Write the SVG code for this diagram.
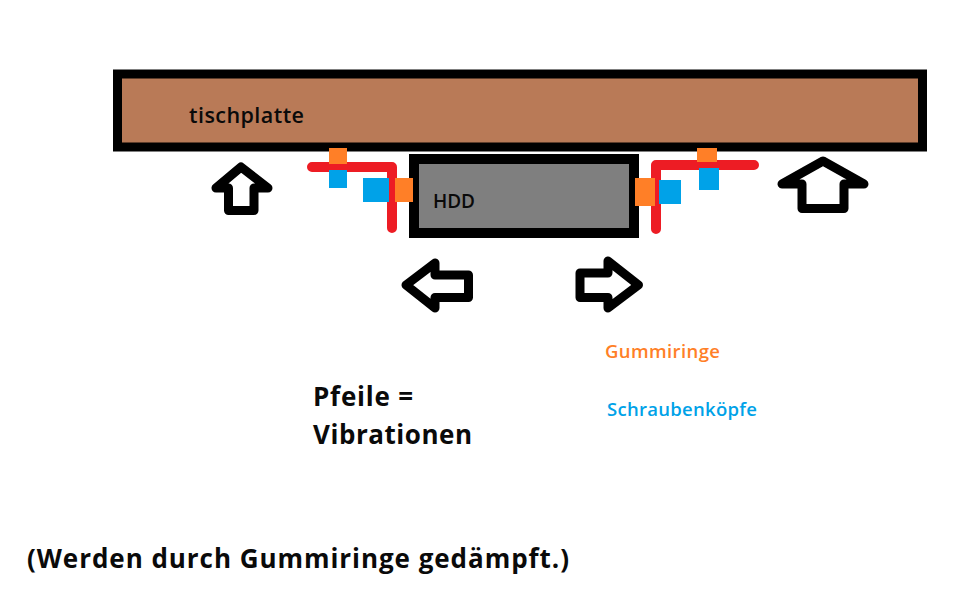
<svg xmlns="http://www.w3.org/2000/svg" width="971" height="616" viewBox="0 0 971 616">
<style>
.t{font-family:"Open Sans","DejaVu Sans",sans-serif;font-weight:700;fill:#0a0a0a}
.l{font-family:"Open Sans","DejaVu Sans",sans-serif;font-weight:600;font-size:18.500px}
.a{fill:#fff;stroke:#000;stroke-width:9;stroke-linejoin:round}
.o{fill:#ff7f27}.b{fill:#00a2e8}
.r{fill:none;stroke:#ed1c24;stroke-width:10;stroke-linejoin:round;stroke-linecap:round}
</style>
<rect width="971" height="616" fill="#fff"/>
<g id="tischplatte">
<rect x="117.500" y="74" width="805" height="73" fill="#b97a57" stroke="#000" stroke-width="9"/>
<text class="t" x="189" y="123" font-size="21.500" textLength="115" style="font-weight:600">tischplatte</text>
</g>
<g id="hdd">
<rect x="414" y="159" width="220" height="74" fill="#7f7f7f" stroke="#000" stroke-width="10"/>
<text class="t" x="433" y="208" font-size="19" textLength="42" style="font-weight:600">HDD</text>
</g>
<g id="connectors">
<path class="r" d="M312 167H392V228"/>
<path class="r" d="M754 165H656V229"/>
</g>
<g id="mount-left">
<rect class="o" x="329" y="148" width="18" height="16"/>
<rect class="b" x="329" y="170" width="18" height="18"/>
<rect class="b" x="363" y="178" width="26" height="24"/>
<rect class="o" x="395" y="178" width="18" height="24"/>
</g>
<g id="mount-right">
<rect class="o" x="697" y="148" width="20" height="14"/>
<rect class="b" x="699" y="168" width="20" height="22"/>
<rect class="b" x="659" y="180" width="22" height="24"/>
<rect class="o" x="635" y="178" width="20" height="28"/>
</g>
<g id="arrow-up-left"><path class="a" d="M241 167L216 188H228.500V210.500H254V188H268Z"/></g>
<g id="arrow-up-right"><path class="a" d="M823 161L782 184H802V208.500H844V184H864Z"/></g>
<g id="arrow-left"><path class="a" d="M406 285L435 263V275H468.500V297.500H435V308Z"/></g>
<g id="arrow-right"><path class="a" d="M638.500 285L608 261V273H580V297.500H608V308Z"/></g>
<g id="legend">
<text class="l" x="605" y="358" textLength="115" fill="#ff7f27">Gummiringe</text>
<text class="l" x="607" y="416" textLength="150" fill="#00a2e8">Schraubenköpfe</text>
</g>
<text class="t" x="313" y="406" font-size="26" textLength="100">Pfeile =</text>
<text class="t" x="313" y="444" font-size="26" textLength="159">Vibrationen</text>
<text class="t" x="27" y="568" font-size="26" textLength="542">(Werden durch Gummiringe gedämpft.)</text>
</svg>
